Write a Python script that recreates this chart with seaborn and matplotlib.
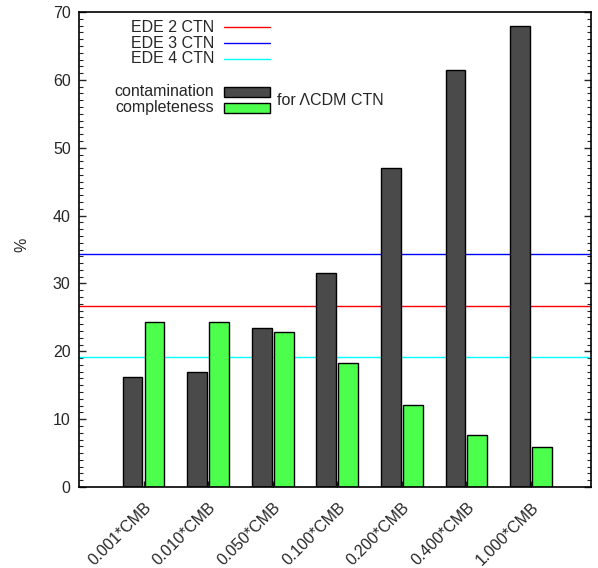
import numpy as np
import pandas as pd
import seaborn as sns
import matplotlib
matplotlib.use("Agg")
import matplotlib.pyplot as plt
from matplotlib.lines import Line2D
from matplotlib.patches import Rectangle
from matplotlib.ticker import MultipleLocator

# Data
categories = ["0.001*CMB", "0.010*CMB", "0.050*CMB", "0.100*CMB",
              "0.200*CMB", "0.400*CMB", "1.000*CMB"]
contamination = [16.2, 16.9, 23.4, 31.5, 47.0, 61.4, 68.0]
completeness = [24.3, 24.3, 22.8, 18.3, 12.1, 7.7, 5.9]
ede_labels = ["EDE 2 CTN", "EDE 3 CTN", "EDE 4 CTN"]
ede_values = [26.7, 34.3, 19.2]
ede_colors = ["#ff0000", "#0000ff", "#00ffff"]
bar_labels = ["contamination", "completeness"]
bar_colors = ["#4a4a4a", "#4cff4c"]

sns.set_style("white")
plt.rcParams["font.family"] = ["Liberation Sans", "DejaVu Sans"]
plt.rcParams["font.size"] = 11.5

df = pd.DataFrame({
    "setting": categories * 2,
    "value": contamination + completeness,
    "measure": [bar_labels[0]] * len(categories) + [bar_labels[1]] * len(categories),
})

fig = plt.figure(figsize=(5.98, 5.68), dpi=100)
ax = fig.add_axes([79 / 598, 1 - 487 / 568, 512 / 598, 475 / 568])

sns.barplot(data=df, x="setting", y="value", hue="measure", hue_order=bar_labels,
            palette=bar_colors, width=0.68, gap=0.1, edgecolor="black",
            linewidth=1.0, saturation=1, legend=False, ax=ax, zorder=2)

for v, c in zip(ede_values, ede_colors):
    ax.axhline(v, color=c, lw=1.0, zorder=1)

ax.set_xlim(-1.0, 6.93)
ax.set_ylim(0, 70)
ax.yaxis.set_major_locator(MultipleLocator(10))
ax.yaxis.set_minor_locator(MultipleLocator(1))
ax.tick_params(axis="y", which="major", direction="in", length=5, width=1,
               left=True, right=True, labelsize=11.5, pad=6)
ax.tick_params(axis="y", which="minor", direction="in", length=3, width=0.8,
               left=True, right=True)
ax.tick_params(axis="x", direction="in", length=4, width=1, bottom=True, pad=9)
plt.setp(ax.get_xticklabels(), rotation=45, ha="right", rotation_mode="anchor",
         fontsize=11.5)
ax.set_xlabel("")
ax.set_ylabel("%", fontsize=11.5)
ax.yaxis.set_label_coords((29 - 79) / 512, 0.509)
for s in ax.spines.values():
    s.set_visible(True)
    s.set_color("black")
    s.set_linewidth(1.2)

# Key
tx, lx0, lx1 = 0.2637, 0.2832, 0.373
for lab, col, y in zip(ede_labels, ede_colors, [0.9684, 0.9347, 0.9011]):
    ax.text(tx, y, lab, transform=ax.transAxes, ha="right", va="center", fontsize=11.5)
    ax.add_line(Line2D([lx0, lx1], [y, y], transform=ax.transAxes, color=col, lw=1.0))
for lab, col, y in zip(bar_labels, bar_colors, [0.8316, 0.7979]):
    ax.text(tx, y, lab, transform=ax.transAxes, ha="right", va="center", fontsize=11.5)
    ax.add_patch(Rectangle((lx0, y - 0.0095), lx1 - lx0, 0.019, transform=ax.transAxes,
                           facecolor=col, edgecolor="black", lw=1.0, clip_on=False))
ax.text(0.3867, 0.8147, "for \u039bCDM CTN", transform=ax.transAxes, ha="left",
        va="center", fontsize=11.5)

fig.savefig("out.png", dpi=100)
